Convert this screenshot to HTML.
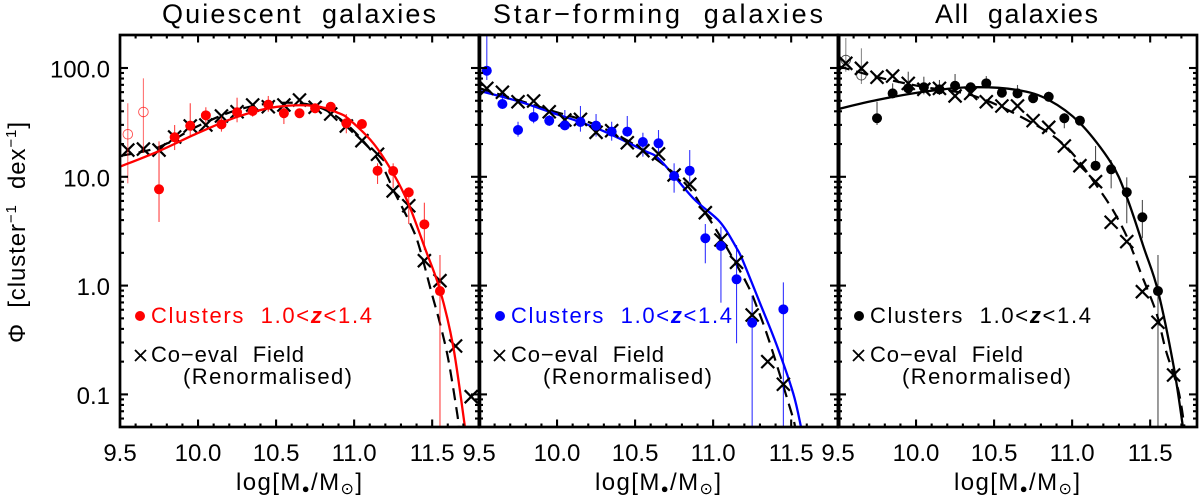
<!DOCTYPE html>
<html>
<head>
<meta charset="utf-8">
<title>Stellar mass functions</title>
<style>
html,body{margin:0;padding:0;background:#fff;width:1200px;height:499px;overflow:hidden}
svg{display:block;font-family:"Liberation Sans","DejaVu Sans",sans-serif}
text{fill:#000;white-space:pre}
.title{font-size:27px}
.tick{font-size:24px}
.axis{font-size:24px}
.leg{font-size:22px}
</style>
</head>
<body>
<svg id="chart" width="1200" height="499" viewBox="0 0 1200 499" xmlns="http://www.w3.org/2000/svg">
  <rect x="0" y="0" width="1200" height="499" fill="#fff"/>
  <g id="layer-data"></g>
  <g id="layer-axes"></g>

  <text class="title" x="162" y="23" textLength="274" lengthAdjust="spacing">Quiescent  galaxies</text>
  <text class="title" x="493" y="23" textLength="330" lengthAdjust="spacing">Star−forming  galaxies</text>
  <text class="title" x="935" y="23" textLength="163" lengthAdjust="spacing">All  galaxies</text>

  <text class="axis" transform="translate(25,343) rotate(-90)" textLength="221" lengthAdjust="spacing">Φ  [cluster<tspan font-size="15" dy="-9">−1</tspan><tspan dy="9">  dex</tspan><tspan font-size="15" dy="-9">−1</tspan><tspan dy="9">]</tspan></text>

  <text class="axis" x="236" y="490" textLength="126" lengthAdjust="spacing">log[M<tspan font-size="13" dy="3">●</tspan><tspan dy="-3">/M</tspan><tspan font-size="16" dy="4">⊙</tspan><tspan dy="-4">]</tspan></text>
  <text class="axis" x="595" y="490" textLength="126" lengthAdjust="spacing">log[M<tspan font-size="13" dy="3">●</tspan><tspan dy="-3">/M</tspan><tspan font-size="16" dy="4">⊙</tspan><tspan dy="-4">]</tspan></text>
  <text class="axis" x="954" y="490" textLength="126" lengthAdjust="spacing">log[M<tspan font-size="13" dy="3">●</tspan><tspan dy="-3">/M</tspan><tspan font-size="16" dy="4">⊙</tspan><tspan dy="-4">]</tspan></text>

  <g>
    <circle cx="140" cy="316" r="5" fill="#f00"/>
    <text class="leg" x="151" y="323" style="fill:#f00" textLength="221" lengthAdjust="spacing">Clusters  1.0&lt;<tspan font-style="italic" font-weight="bold">z</tspan>&lt;1.4</text>
    <path d="M135 350L146 361M146 350L135 361" stroke="#000" stroke-width="1.8" fill="none"/>
    <text class="leg" x="151" y="362" textLength="153" lengthAdjust="spacing">Co−eval  Field</text>
    <text class="leg" x="183" y="384" textLength="169" lengthAdjust="spacing">(Renormalised)</text>
  </g>
  <g>
    <circle cx="500" cy="316" r="5" fill="#00f"/>
    <text class="leg" x="511" y="323" style="fill:#00f" textLength="221" lengthAdjust="spacing">Clusters  1.0&lt;<tspan font-style="italic" font-weight="bold">z</tspan>&lt;1.4</text>
    <path d="M494 350L505 361M505 350L494 361" stroke="#000" stroke-width="1.8" fill="none"/>
    <text class="leg" x="511" y="362" textLength="153" lengthAdjust="spacing">Co−eval  Field</text>
    <text class="leg" x="543" y="384" textLength="169" lengthAdjust="spacing">(Renormalised)</text>
  </g>
  <g>
    <circle cx="859" cy="316" r="5" fill="#000"/>
    <text class="leg" x="870" y="323" textLength="221" lengthAdjust="spacing">Clusters  1.0&lt;<tspan font-style="italic" font-weight="bold">z</tspan>&lt;1.4</text>
    <path d="M853 350L864 361M864 350L853 361" stroke="#000" stroke-width="1.8" fill="none"/>
    <text class="leg" x="870" y="362" textLength="153" lengthAdjust="spacing">Co−eval  Field</text>
    <text class="leg" x="902" y="384" textLength="169" lengthAdjust="spacing">(Renormalised)</text>
  </g>
</svg>
<script>
// All phi values are stored as log10(phi).
const massBins = [9.55,9.65,9.75,9.85,9.95,10.05,10.15,10.25,10.35,10.45,10.55,10.65,10.75,10.85,10.95,11.05,11.15,11.25,11.35,11.45,11.55,11.65,11.75];

const yTickValues = [-1,0,1,2];
const yTickLabels = ['0.1','1.0','10.0','100.0'];
const xTickValues = [9.5,10,10.5,11,11.5];
const xTickLabels = ['9.5','10.0','10.5','11.0','11.5'];

// Quiescent panel
const quiescentOpen = [1.391,1.596];
const quiescentOpenHigh = [1.676,1.905];
const quiescentOpenLow = [0.940,1.219];
const quiescentFilled = [null,null,0.885,1.363,1.47,1.565,1.482,1.593,1.605,1.663,1.584,1.584,1.63,1.644,1.492,1.485,1.056,1.053,0.857,0.563,-0.05];
const quiescentHigh = [null,null,1.326,1.476,1.676,1.639,1.552,1.727,1.651,1.743,1.651,1.613,1.669,1.676,1.577,1.522,1.124,1.124,0.903,0.762,0.281];
const quiescentLow = [null,null,0.585,1.246,1.369,1.492,1.415,1.501,1.552,1.598,1.485,1.568,1.584,1.608,1.4,1.446,0.934,0.897,0.566,0.327,-1.3];
const quiescentField = [1.246,1.255,1.246,1.366,1.467,1.476,1.559,1.598,1.66,1.644,1.66,1.706,1.639,1.577,1.467,1.332,1.207,0.87,0.734,0.229,0.045,-0.555,-1.021];
const quiescentFitMass = [9.5,9.75,10,10.25,10.5,10.75,10.9,10.973,11.123,11.25,11.347,11.454,11.55,11.635,11.71];
const quiescentFit = [1.093,1.237,1.403,1.55,1.642,1.651,1.586,1.522,1.308,1.032,0.756,0.343,-0.04,-0.562,-1.3];
const quiescentFieldFitMass = [9.5,9.75,10,10.25,10.5,10.75,10.95,11.155,11.262,11.369,11.42,11.497,11.55,11.604,11.66,11.67];
const quiescentFieldFit = [1.191,1.274,1.467,1.614,1.678,1.651,1.485,1.154,0.848,0.541,0.343,-0.071,-0.347,-0.684,-1.174,-1.3];

// Star-forming panel
const starFilled = [1.975,1.669,1.43,1.55,1.516,1.473,1.504,1.47,1.415,1.415,1.32,1.308,1.007,1.056,0.435,0.364,0.058,-0.341,null,-0.218];
const starHigh = [2.303,1.77,1.506,1.644,1.568,1.614,1.651,1.577,1.506,1.559,1.405,1.43,1.124,1.246,0.566,0.541,0.373,-0.093,null,0.03];
const starLow = [1.89,1.632,1.369,1.492,1.467,1.43,1.415,1.369,1.332,1.369,1.185,1.2,0.854,0.955,0.205,-0.157,-0.53,-1.3,null,-1.3];
const starField = [1.813,1.777,1.69,1.697,1.598,1.522,1.528,1.409,1.424,1.313,1.24,1.21,1.017,0.931,0.67,0.419,0.214,-0.27,-0.699,-0.907];
const starFitMass = [9.5,9.75,9.95,10.25,10.55,10.66,10.873,11.044,11.151,11.193,11.3,11.407,11.513,11.563];
const starFit = [1.791,1.695,1.598,1.449,1.246,1.154,0.802,0.585,0.343,0.22,-0.16,-0.546,-0.99,-1.3];
const starFieldFitMass = [9.5,9.75,9.95,10.25,10.55,10.82,10.959,11.065,11.215,11.28,11.364,11.503,11.525];
const starFieldFit = [1.816,1.705,1.614,1.476,1.246,0.94,0.649,0.404,0.021,-0.194,-0.53,-1.174,-1.3];

// All-galaxies panel
const allOpen = [2.074,1.933];
const allOpenHigh = [2.276,2.181];
const allOpenLow = [1.966,1.853];
const allFilled = [null,null,1.538,1.767,1.813,1.823,1.804,1.837,1.823,1.859,1.773,1.767,1.722,1.736,1.538,1.516,1.102,1.069,0.858,0.628,-0.05];
const allHigh = [null,null,1.69,1.859,1.966,1.92,1.89,1.945,1.865,1.926,1.823,1.844,1.767,1.782,1.584,1.552,1.283,1.154,0.995,0.787,0.281];
const allLow = [null,null,1.476,1.722,1.752,1.758,1.752,1.791,1.773,1.813,1.731,1.722,1.681,1.69,1.446,1.476,1.056,0.894,0.573,0.435,-1.3];
const allField = [2.043,1.997,1.915,1.926,1.859,1.804,1.813,1.743,1.767,1.69,1.651,1.651,1.516,1.455,1.283,1.102,0.955,0.582,0.404,-0.056,-0.337,-0.822];
const allFitMass = [9.5,9.75,10.05,10.35,10.65,10.85,11.05,11.25,11.35,11.46,11.55,11.65,11.71];
const allFit = [1.623,1.706,1.782,1.823,1.798,1.706,1.494,1.127,0.814,0.346,-0.05,-0.739,-1.3];
const allFieldFitMass = [9.5,9.75,10.05,10.35,10.65,10.95,11.19,11.32,11.39,11.44,11.54,11.6,11.68,11.72];
const allFieldFit = [2.018,1.917,1.825,1.752,1.568,1.292,0.851,0.541,0.309,0.116,-0.252,-0.592,-0.96,-1.3];

const SVGNS = 'http://www.w3.org/2000/svg';
const PLOT_TOP = 35, PLOT_BOTTOM = 427, PANEL_WIDTH = 359;
const dataLayer = document.getElementById('layer-data');
const axesLayer = document.getElementById('layer-axes');

function xScale(left, mass){ return left + (mass - 9.5) * (PANEL_WIDTH / 2.3); }
function yScale(logPhi){ return 68 + (2 - logPhi) * 108.8; }

function make(tag, parent, name){
  const el = document.createElementNS(SVGNS, tag);
  
  
  parent.appendChild(el);
  return el;
}

function smoothPath(px, py){
  let d = 'M' + px[0].toFixed(2) + ' ' + py[0].toFixed(2);
  for (let i = 0; i < px.length - 1; i++) {
    const p0 = Math.max(i - 1, 0), p3 = Math.min(i + 2, px.length - 1);
    const c1x = px[i] + (px[i + 1] - px[p0]) / 6, c1y = py[i] + (py[i + 1] - py[p0]) / 6;
    const c2x = px[i + 1] - (px[p3] - px[i]) / 6, c2y = py[i + 1] - (py[p3] - py[i]) / 6;
    d += 'C' + c1x.toFixed(2) + ' ' + c1y.toFixed(2) + ' ' + c2x.toFixed(2) + ' ' + c2y.toFixed(2) + ' ' + px[i + 1].toFixed(2) + ' ' + py[i + 1].toFixed(2);
  }
  return d;
}

function drawFit(left, masses, values, color, dashed, name){
  const p = make('path', dataLayer, name);
  p.setAttribute('d', smoothPath(masses.map(m => xScale(left, m)), values.map(yScale)));
  p.setAttribute('fill', 'none');
  p.setAttribute('stroke', color);
  p.setAttribute('stroke-width', dashed ? 2.2 : 2.3);
  if (dashed) p.setAttribute('stroke-dasharray', '12 7');
}

function drawErrors(left, high, low, color, opacity, offset, name){
  high.forEach((h, i) => {
    if (h === null) return;
    const x = xScale(left, massBins[i + offset]);
    const l = make('line', dataLayer, name);
    l.setAttribute('x1', x);
    l.setAttribute('x2', x);
    l.setAttribute('y1', Math.max(yScale(h), PLOT_TOP));
    l.setAttribute('y2', Math.min(yScale(low[i]), PLOT_BOTTOM));
    l.setAttribute('stroke', color);
    l.setAttribute('stroke-width', 1.1);
    l.setAttribute('stroke-opacity', opacity);
  });
}

function drawCrosses(left, values, name){
  values.forEach((v, i) => {
    const x = xScale(left, massBins[i]), y = yScale(v), s = 6.5;
    const c = make('path', dataLayer, name);
    c.setAttribute('d', 'M' + (x - s) + ' ' + (y - s) + 'L' + (x + s) + ' ' + (y + s) + 'M' + (x + s) + ' ' + (y - s) + 'L' + (x - s) + ' ' + (y + s));
    c.setAttribute('stroke', '#000');
    c.setAttribute('stroke-width', 2.2);
    c.setAttribute('fill', 'none');
  });
}

function drawFilled(left, values, color, name){
  values.forEach((v, i) => {
    if (v === null) return;
    const c = make('circle', dataLayer, name);
    c.setAttribute('cx', xScale(left, massBins[i]));
    c.setAttribute('cy', yScale(v));
    c.setAttribute('r', 5);
    c.setAttribute('fill', color);
  });
}

function drawOpen(left, values, color, name){
  values.forEach((v, i) => {
    const c = make('circle', dataLayer, name);
    c.setAttribute('cx', xScale(left, massBins[i]));
    c.setAttribute('cy', yScale(v));
    c.setAttribute('r', 4.8);
    c.setAttribute('fill', 'none');
    c.setAttribute('stroke', color);
    c.setAttribute('stroke-width', 0.9);
    c.setAttribute('stroke-opacity', 0.7);
  });
}

function tickLine(x1, y1, x2, y2, name){
  const t = make('line', axesLayer, name);
  t.setAttribute('x1', x1);
  t.setAttribute('y1', y1);
  t.setAttribute('x2', x2);
  t.setAttribute('y2', y2);
  t.setAttribute('stroke', '#000');
  t.setAttribute('stroke-width', 2.1);
}

function drawAxes(left, showYLabels){
  const right = left + PANEL_WIDTH;
  const frame = make('rect', axesLayer, 'plot-frame');
  frame.setAttribute('x', left);
  frame.setAttribute('y', PLOT_TOP);
  frame.setAttribute('width', PANEL_WIDTH);
  frame.setAttribute('height', PLOT_BOTTOM - PLOT_TOP);
  frame.setAttribute('fill', 'none');
  frame.setAttribute('stroke', '#000');
  frame.setAttribute('stroke-width', 2.7);

  for (let k = 1; k < 23; k++) {
    const m = 9.5 + k * 0.1;
    const major = k % 5 === 0;
    const x = xScale(left, m), len = major ? 7.5 : 3.5;
    tickLine(x, PLOT_BOTTOM, x, PLOT_BOTTOM - len, 'x-tick-bottom');
    tickLine(x, PLOT_TOP, x, PLOT_TOP + len, 'x-tick-top');
  }
  for (let dec = -2; dec <= 2; dec++) {
    for (let f = 1; f <= 9; f++) {
      const lg = dec + Math.log10(f);
      const y = yScale(lg);
      if (y < PLOT_TOP + 1 || y > PLOT_BOTTOM - 1) continue;
      const len = f === 1 ? 8 : 4;
      tickLine(left, y, left + len, y, 'y-tick-left');
      tickLine(right, y, right - len, y, 'y-tick-right');
    }
  }
  xTickValues.forEach((v, i) => {
    const t = make('text', axesLayer, 'x-tick-label');
    t.setAttribute('class', 'tick');
    t.setAttribute('x', xScale(left, v));
    t.setAttribute('y', 461);
    t.setAttribute('text-anchor', 'middle');
    t.textContent = xTickLabels[i];
  });
  if (showYLabels) {
    yTickValues.forEach((v, i) => {
      const t = make('text', axesLayer, 'y-tick-label');
      t.setAttribute('class', 'tick');
      t.setAttribute('x', 110);
      t.setAttribute('y', yScale(v) + 9.5);
      t.setAttribute('text-anchor', 'end');
      t.textContent = yTickLabels[i];
    });
  }
}

const left1 = 120, left2 = 479, left3 = 838;

// Panel 1: quiescent
drawFit(left1, quiescentFieldFitMass, quiescentFieldFit, '#000', true, 'quiescent-field-fit');
drawCrosses(left1, quiescentField, 'quiescent-field-point');
drawErrors(left1, quiescentOpenHigh, quiescentOpenLow, '#f00', 0.55, 0, 'quiescent-open-error');
drawOpen(left1, quiescentOpen, '#f00', 'quiescent-open-point');
drawErrors(left1, quiescentHigh, quiescentLow, '#f00', 0.75, 0, 'quiescent-error');
drawFit(left1, quiescentFitMass, quiescentFit, '#f00', false, 'quiescent-cluster-fit');
drawFilled(left1, quiescentFilled, '#f00', 'quiescent-cluster-point');

// Panel 2: star-forming
drawFit(left2, starFieldFitMass, starFieldFit, '#000', true, 'star-forming-field-fit');
drawErrors(left2, starHigh, starLow, '#00f', 0.8, 0, 'star-forming-error');
drawFit(left2, starFitMass, starFit, '#00f', false, 'star-forming-cluster-fit');
drawCrosses(left2, starField, 'star-forming-field-point');
drawFilled(left2, starFilled, '#00f', 'star-forming-cluster-point');

// Panel 3: all
drawFit(left3, allFieldFitMass, allFieldFit, '#000', true, 'all-field-fit');
drawErrors(left3, allOpenHigh, allOpenLow, '#000', 0.45, 0, 'all-open-error');
drawOpen(left3, allOpen, '#000', 'all-open-point');
drawErrors(left3, allHigh, allLow, '#000', 0.7, 0, 'all-error');
drawFit(left3, allFitMass, allFit, '#000', false, 'all-cluster-fit');
drawFilled(left3, allFilled, '#000', 'all-cluster-point');
drawCrosses(left3, allField, 'all-field-point');

drawAxes(left1, true);
drawAxes(left2, false);
drawAxes(left3, false);

// Shared panel boundaries read thicker where neighbouring frames overlap.
[479.4, 838.6].forEach(function (x) {
  const edge = make('line', axesLayer, 'panel-divider');
  edge.setAttribute('x1', x);
  edge.setAttribute('x2', x);
  edge.setAttribute('y1', PLOT_TOP);
  edge.setAttribute('y2', PLOT_BOTTOM);
  edge.setAttribute('stroke', '#000');
  edge.setAttribute('stroke-width', 3.8);
});
</script>
</body>
</html>
